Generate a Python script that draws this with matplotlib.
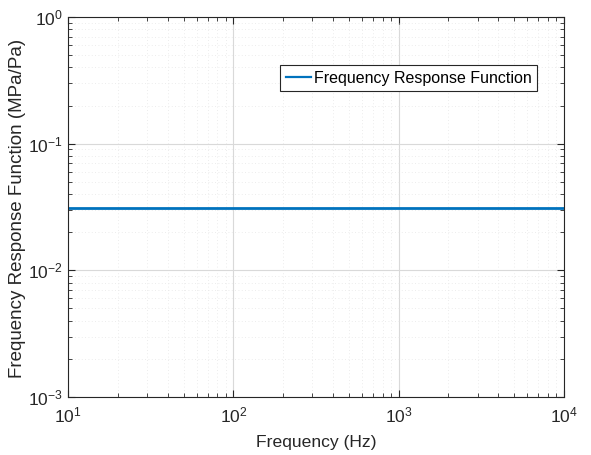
import numpy as np
import matplotlib
matplotlib.use('Agg')
import matplotlib.pyplot as plt

plt.rcParams['font.family'] = ['Liberation Sans', 'DejaVu Sans']
plt.rcParams['mathtext.fontset'] = 'custom'
plt.rcParams['mathtext.rm'] = 'Liberation Sans'
plt.rcParams['axes.unicode_minus'] = False

# data: flat frequency response
freq = np.array([10, 100, 1000, 10000])
frf = np.array([0.0312, 0.0312, 0.0312, 0.0312])

fig = plt.figure(figsize=(5.91, 4.55), dpi=100)
ax = fig.add_axes([0.1151, 0.1275, 0.8393, 0.8352])

ax.loglog(freq, frf, color='#0072BD', lw=2, label='Frequency Response Function')
ax.set_xlim(10, 1e4)
ax.set_ylim(1e-3, 1)

ax.grid(True, which='major', color='#d9d9d9', lw=0.8)
ax.grid(True, which='minor', color='#e6e6e6', lw=0.6, ls=(0, (1, 3)))
ax.tick_params(which='both', direction='in', top=True, right=True, labelsize=12.5, colors='#262626')
ax.tick_params(which='major', length=5)
ax.tick_params(which='minor', length=3)
ax.tick_params(axis='x', pad=6)
ax.tick_params(axis='y', pad=4)
for s in ax.spines.values():
    s.set_color('#262626')

ax.set_xlabel('Frequency (Hz)', fontsize=12.6, color='#262626')
ax.set_ylabel('Frequency Response Function (MPa/Pa)', fontsize=13.5, color='#262626')
ax.xaxis.set_label_coords(0.5, -0.1)
ax.yaxis.set_label_coords(-0.085, 0.495)

leg = ax.legend(loc='upper right', bbox_to_anchor=(0.9456, 0.8737), borderaxespad=0,
                fontsize=11.5, fancybox=False, framealpha=1, edgecolor='#262626',
                handlelength=1.55, borderpad=0.35, handletextpad=0.2)
leg.get_frame().set_linewidth(0.8)
leg.get_lines()[0].set_linewidth(1.6)

fig.savefig('out.png', dpi=100)
